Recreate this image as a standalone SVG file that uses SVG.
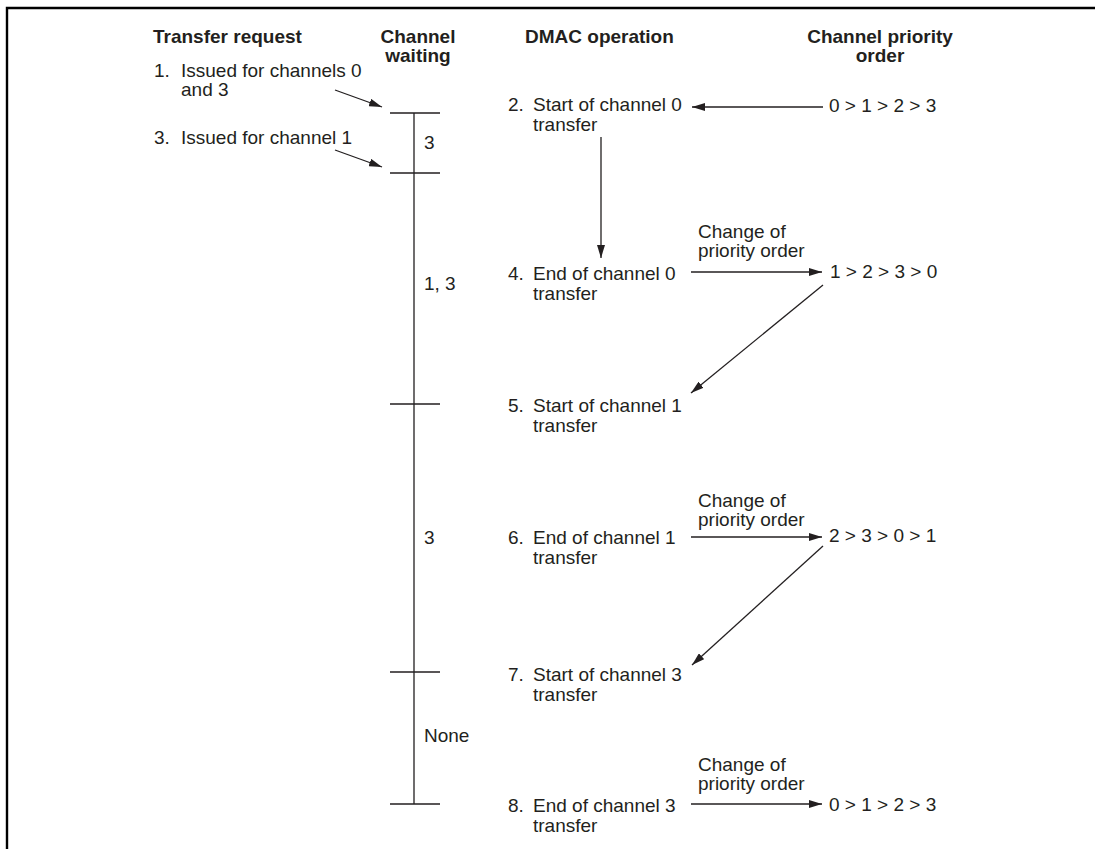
<svg xmlns="http://www.w3.org/2000/svg" width="1095" height="849" viewBox="0 0 1095 849">
<style>
text{font-family:"Liberation Sans",Arial,sans-serif;font-size:19px;fill:#231f20}
.h{font-weight:bold}
.m{text-anchor:middle}
.ln{stroke:#231f20;stroke-width:1.3;fill:none}
.ar{stroke:#231f20;stroke-width:1.3;fill:none;marker-end:url(#ah)}
.frame{stroke:#000;stroke-width:2.4;fill:none}
</style>
<defs>
<marker id="ah" viewBox="0 0 13 8" refX="13" refY="4" markerWidth="13" markerHeight="8" markerUnits="userSpaceOnUse" orient="auto">
<path d="M0,0 L13,4 L0,8 z" fill="#231f20"/>
</marker>
</defs>
<rect width="1095" height="849" fill="#fff"/>
<path class="frame" d="M7,849 V8 H1095"/>

<g id="headers">
<text class="h" x="153" y="43">Transfer request</text>
<text class="h m" x="418" y="43">Channel</text>
<text class="h m" x="418" y="62">waiting</text>
<text class="h" x="525" y="43">DMAC operation</text>
<text class="h m" x="880" y="43">Channel priority</text>
<text class="h m" x="880" y="62">order</text>
</g>

<g id="req1"><text x="154" y="77">1.</text><text x="181" y="77">Issued for channels 0</text><text x="181" y="96">and 3</text></g>
<g id="req3"><text x="154" y="144">3.</text><text x="181" y="144">Issued for channel 1</text></g>

<g id="timeline">
<path class="ln" d="M414,113 V804 M390,113 H440 M390,173 H440 M390,404 H440 M390,672 H440 M390,804 H440"/>
<text x="424" y="149">3</text>
<text x="424" y="290">1, 3</text>
<text x="424" y="544">3</text>
<text x="424" y="742">None</text>
</g>

<g id="op2"><text x="508" y="111">2.</text><text x="533" y="111">Start of channel 0</text><text x="533" y="131">transfer</text></g>
<g id="op4"><text x="508" y="280">4.</text><text x="533" y="280">End of channel 0</text><text x="533" y="300">transfer</text></g>
<g id="op5"><text x="508" y="412">5.</text><text x="533" y="412">Start of channel 1</text><text x="533" y="432">transfer</text></g>
<g id="op6"><text x="508" y="544">6.</text><text x="533" y="544">End of channel 1</text><text x="533" y="564">transfer</text></g>
<g id="op7"><text x="508" y="681">7.</text><text x="533" y="681">Start of channel 3</text><text x="533" y="701">transfer</text></g>
<g id="op8"><text x="508" y="812">8.</text><text x="533" y="812">End of channel 3</text><text x="533" y="832">transfer</text></g>

<g id="prio1"><text x="829" y="112">0 &gt; 1 &gt; 2 &gt; 3</text></g>
<g id="prio2"><text x="830" y="278">1 &gt; 2 &gt; 3 &gt; 0</text></g>
<g id="prio3"><text x="829" y="542">2 &gt; 3 &gt; 0 &gt; 1</text></g>
<g id="prio4"><text x="829" y="811">0 &gt; 1 &gt; 2 &gt; 3</text></g>

<g id="connectors">
<path class="ar" d="M335,90 L382,107"/>
<path class="ar" d="M335,150 L382,167"/>
<path class="ar" d="M823,107 H692"/>
<path class="ar" d="M601,137 V258"/>
<path class="ar" d="M691,272 H822"/>
<path class="ar" d="M823,285 L691,393"/>
<path class="ar" d="M691,537 H822"/>
<path class="ar" d="M823,546 L692,665"/>
<path class="ar" d="M691,804 H822"/>
<text x="698" y="238">Change of</text>
<text x="698" y="257">priority order</text>
<text x="698" y="507">Change of</text>
<text x="698" y="526">priority order</text>
<text x="698" y="771">Change of</text>
<text x="698" y="790">priority order</text>
</g>
</svg>
